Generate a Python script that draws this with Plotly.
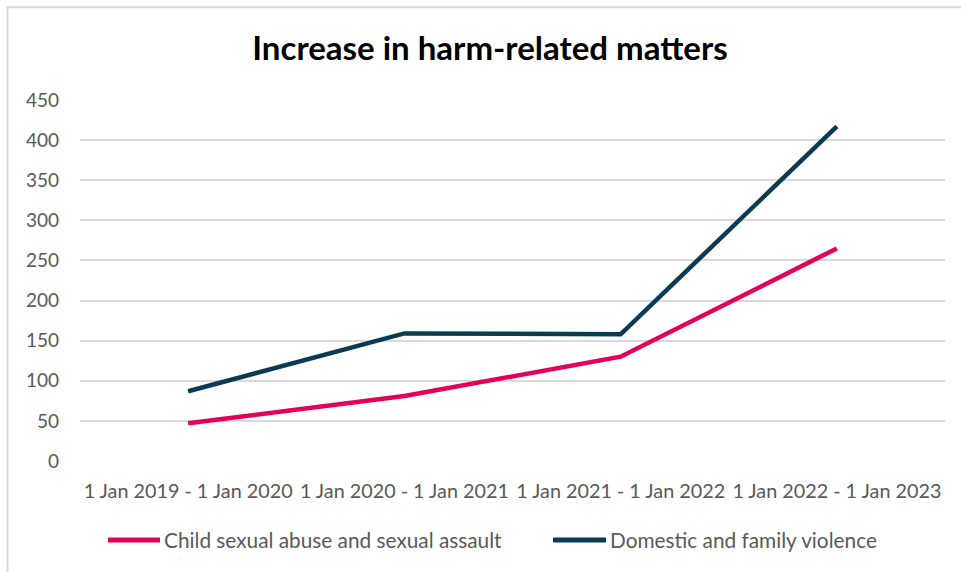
import plotly.graph_objects as go

categories = ["1 Jan 2019 - 1 Jan 2020", "1 Jan 2020 - 1 Jan 2021",
              "1 Jan 2021 - 1 Jan 2022", "1 Jan 2022 - 1 Jan 2023"]
child_abuse = [47, 81, 130, 265]
domestic_violence = [87, 159, 158, 417]
y_ticks = [0, 50, 100, 150, 200, 250, 300, 350, 400, 450]
series_names = ["Child sexual abuse and sexual assault", "Domestic and family violence"]
series_colors = ["#E5005B", "#0B3A53"]

W, H = 961, 572
ml, mr, mt, mb = 80, 16, 99.5, 111
pw = W - ml - mr
ph = H - mt - mb


def px_x(x):
    return (x - ml) / pw


def px_y(y):
    return (H - mb - y) / ph


fig = go.Figure()
for vals, name, col in zip([child_abuse, domestic_violence], series_names, series_colors):
    fig.add_trace(go.Scatter(x=categories, y=vals, mode="lines", name=name,
                             line=dict(color=col, width=4.5), showlegend=False))

# chart border (extends past right/bottom edges like the reference)
fig.add_shape(type="rect", xref="paper", yref="paper",
              x0=px_x(7.5), x1=px_x(990), y0=px_y(600), y1=px_y(6.5),
              line=dict(color="#D9D9D9", width=2), fillcolor="rgba(0,0,0,0)", layer="below")

# manual legend
legend_pos = [(108, 160, 162), (553, 606, 608)]
for (x0, x1, xt), name, col in zip(legend_pos, series_names, series_colors):
    fig.add_shape(type="line", xref="paper", yref="paper",
                  x0=px_x(x0), x1=px_x(x1), y0=px_y(540), y1=px_y(540),
                  line=dict(color=col, width=5))
    fig.add_annotation(text=name, xref="paper", yref="paper", x=px_x(xt), y=px_y(540),
                       xanchor="left", yanchor="middle", showarrow=False,
                       font=dict(size=20.8, color="#595959"))

fig.update_layout(
    width=W, height=H,
    margin=dict(l=ml, r=mr, t=mt, b=mb),
    paper_bgcolor="white", plot_bgcolor="white",
    title=dict(text="<b>Increase in harm-related matters</b>", x=490 / W, xanchor="center",
               y=1 - 48 / H, yanchor="middle",
               font=dict(family="Lato, Open Sans, sans-serif", size=33, color="#000000")),
    font=dict(family="Lato, Open Sans, sans-serif", size=20, color="#595959"),
    xaxis=dict(type="category", showgrid=False, showline=False, ticks="",
               tickfont=dict(size=19.8, color="#595959"), range=[-0.5, 3.5],
               ticklabelstandoff=16, fixedrange=True),
    yaxis=dict(range=[0, 450], tickvals=y_ticks, showgrid=True, gridcolor="#D9D9D9",
               gridwidth=1.5, zeroline=False, showline=False, ticks="",
               tickfont=dict(size=19, color="#595959"), ticklabelstandoff=20,
               fixedrange=True),
    showlegend=False,
)

fig.write_html("out.html", config={"displayModeBar": False},
               post_script="document.body.style.margin='0';")
